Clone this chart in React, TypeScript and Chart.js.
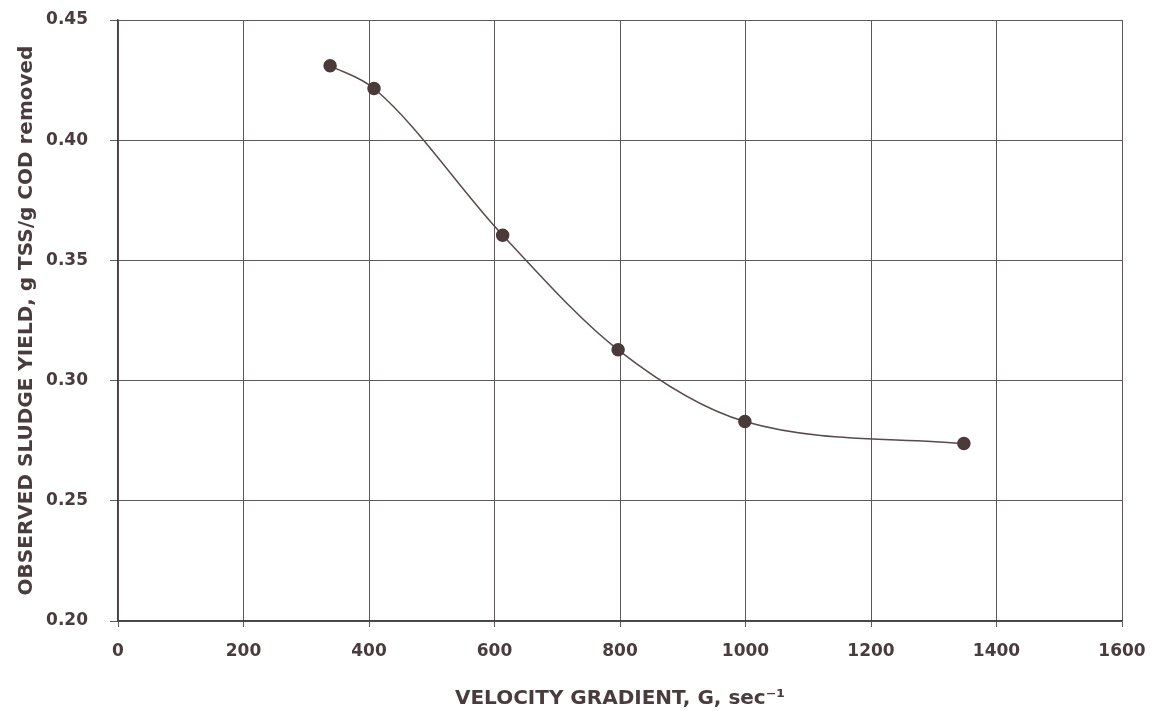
import React, { useEffect, useRef } from "react";
import { Chart, registerables } from "chart.js";

Chart.register(...registerables);

const velocityGradient = [338, 408, 613, 797, 999, 1348];
const sludgeYield = [0.431, 0.4215, 0.3605, 0.3128, 0.283, 0.2738];
const xTicks = [0, 200, 400, 600, 800, 1000, 1200, 1400, 1600];
const yTicks = [0.2, 0.25, 0.3, 0.35, 0.4, 0.45];
const xTitle = "VELOCITY GRADIENT, G, sec\u207B\u00B9";
const yTitle = "OBSERVED SLUDGE YIELD, g TSS/g COD removed";

export default function App() {
  const ref = useRef<HTMLCanvasElement | null>(null);
  useEffect(() => {
    if (!ref.current) return;
    const ink = "#4a3c3c";
    const grid = "#5f5858";
    const family = "DejaVu Sans, Arial, sans-serif";
    const font = { family, size: 17, weight: "bold" as const };
    const titleFont = { family, size: 20, weight: "bold" as const };
    const chart = new Chart(ref.current, {
      type: "scatter",
      data: {
        datasets: [
          {
            data: velocityGradient.map((x, i) => ({ x, y: sludgeYield[i] })),
            showLine: true,
            cubicInterpolationMode: "monotone",
            borderColor: "#5a4a4a",
            borderWidth: 1.5,
            pointRadius: 6,
            pointBackgroundColor: "#4a3a3a",
            pointBorderColor: "#4a3a3a",
          },
        ],
      },
      options: {
        animation: false,
        responsive: false,
        layout: { padding: { left: 0, top: 20, right: 43, bottom: 0 } },
        plugins: { legend: { display: false }, tooltip: { enabled: false } },
        scales: {
          x: {
            type: "linear",
            min: 0,
            max: 1600,
            afterBuildTicks: (s: any) => {
              s.ticks = xTicks.map((v) => ({ value: v }));
            },
            afterFit: (s: any) => {
              s.height = 90;
              s.paddingLeft = 0;
              s.paddingRight = 0;
            },
            grid: { color: grid, lineWidth: 1, tickLength: 6 },
            border: { color: "#4a4040", width: 1.5 },
            ticks: {
              color: ink,
              font,
              padding: 14,
              maxRotation: 0,
              callback: (v: any) => String(v),
            },
            title: {
              display: true,
              text: xTitle,
              color: ink,
              font: titleFont,
              padding: { top: 2, bottom: 0 },
            },
          },
          y: {
            type: "linear",
            min: 0.2,
            max: 0.45,
            afterBuildTicks: (s: any) => {
              s.ticks = yTicks.map((v) => ({ value: v }));
            },
            afterFit: (s: any) => {
              s.width = 118;
              s.paddingTop = 0;
              s.paddingBottom = 0;
            },
            grid: { color: grid, lineWidth: 1, tickLength: 8 },
            border: { color: "#4a4040", width: 1.5 },
            ticks: {
              color: ink,
              font,
              padding: 22,
              callback: (v: any) => Number(v).toFixed(2),
            },
            title: {
              display: true,
              text: yTitle,
              color: ink,
              font: titleFont,
              padding: { top: 15, bottom: 0 },
            },
          },
        },
      },
    });
    return () => chart.destroy();
  }, []);
  return (
    <div style={{ position: "absolute", left: 0, top: 0, width: 1165, height: 711, background: "#fff" }}>
      <canvas ref={ref} width={1165} height={711} style={{ width: 1165, height: 711 }} />
    </div>
  );
}
